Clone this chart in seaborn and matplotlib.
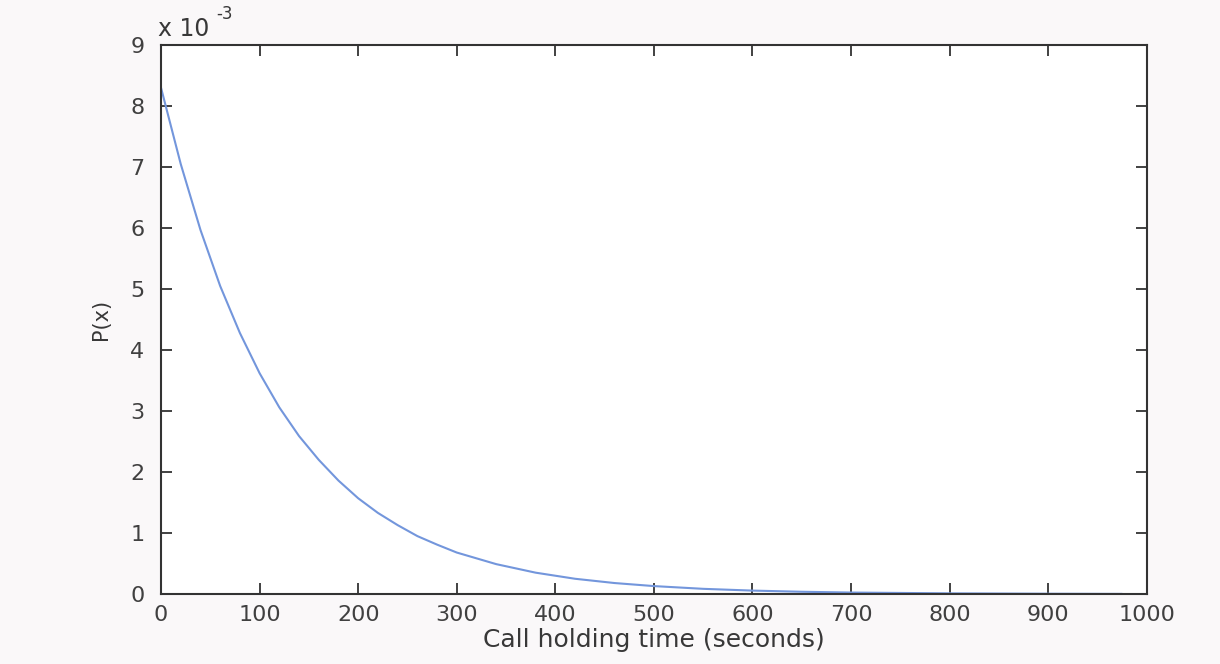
import numpy as np
import pandas as pd
import matplotlib
matplotlib.use("Agg")
import matplotlib.pyplot as plt
import seaborn as sns

# Call holding time (seconds) and P(x) in units of 1e-3
hold_time = [0, 20, 40, 60, 80, 100, 120, 140, 160, 180, 200, 220, 240, 260, 280,
             300, 340, 380, 420, 460, 500, 550, 600, 650, 700, 800, 900, 975]
p_x_e3 = [8.30, 7.05, 5.97, 5.05, 4.28, 3.62, 3.06, 2.59, 2.20, 1.86, 1.57, 1.33,
          1.13, 0.95, 0.81, 0.68, 0.49, 0.35, 0.25, 0.18, 0.13, 0.085, 0.056,
          0.037, 0.024, 0.011, 0.005, 0.002]
x_ticks = [0, 100, 200, 300, 400, 500, 600, 700, 800, 900, 1000]
y_ticks = [0, 1, 2, 3, 4, 5, 6, 7, 8, 9]

sns.set_theme(style="ticks")
plt.rcParams['font.family'] = ['DejaVu Sans']

df = pd.DataFrame({"x": hold_time, "p": p_x_e3})

fig = plt.figure(figsize=(12.2, 6.64), dpi=100, facecolor="#faf8f9")
ax = fig.add_axes([0.132, 0.1054, 0.808, 0.8266])
ax.set_facecolor("white")

sns.lineplot(data=df, x="x", y="p", ax=ax, color="#7396dc", linewidth=1.5)

ax.set_xlim(0, 1000)
ax.set_ylim(0, 9)
ax.set_xticks(x_ticks)
ax.set_yticks(y_ticks)
ax.set_xticklabels([str(t) for t in x_ticks])
ax.set_yticklabels([str(t) for t in y_ticks])
ax.tick_params(direction="in", length=8, width=1.3, colors="#333333",
               labelsize=16, top=True, right=True,
               labelcolor="#404040")
ax.tick_params(axis="x", pad=8)
ax.tick_params(axis="y", pad=12)
for s in ax.spines.values():
    s.set_visible(True)
    s.set_color("#333333")
    s.set_linewidth(1.5)

ax.set_xlabel("Call holding time (seconds)", fontsize=18, color="#383838", labelpad=2)
ax.set_ylabel("P(x)", fontsize=15, color="#383838", labelpad=14)
ax.text(-0.003, 1.008, "x 10", transform=ax.transAxes, fontsize=17,
        color="#383838", ha="left", va="bottom")
ax.text(0.056, 1.040, "-3", transform=ax.transAxes, fontsize=12,
        color="#383838", ha="left", va="bottom")

fig.savefig("out.png", dpi=100, facecolor=fig.get_facecolor())
